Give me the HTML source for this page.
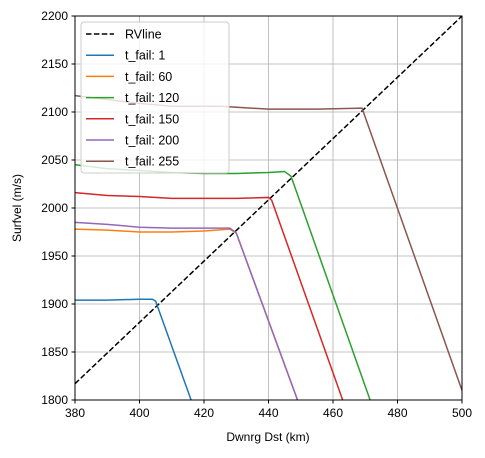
<!DOCTYPE html>
<html><head><meta charset="utf-8"><style>
body{margin:0;background:#fff;font-family:"Liberation Sans",sans-serif;}
</style></head><body>
<svg width="485" height="453" xmlns="http://www.w3.org/2000/svg" font-family="Liberation Sans, sans-serif">
<rect width="485" height="453" fill="#fff"/>
<g id="grid"></g>
<g id="series"></g>
<rect x="75" y="16" width="387" height="384" fill="none" stroke="#000" stroke-width="1"/>
<g id="ticks" font-size="12"></g>
<text x="268" y="441" text-anchor="middle" font-size="12">Dwnrg Dst (km)</text>
<text transform="translate(21,208) rotate(-90)" text-anchor="middle" font-size="12">Surfvel (m/s)</text>
<g id="legend"></g>
</svg>
<script>
const xTicks=[380,400,420,440,460,480,500];
const yTicks=[1800,1850,1900,1950,2000,2050,2100,2150,2200];
const rvX=[380,500];
const rvY=[1817,2200];
const labels=["t_fail: 1","t_fail: 60","t_fail: 120","t_fail: 150","t_fail: 200","t_fail: 255"];
const colors=["#1f77b4","#ff7f0e","#2ca02c","#d62728","#9467bd","#8c564b"];
const s1x=[380,390,400,404,405,416];
const s1y=[1904,1904,1905,1905,1903,1800];
const s60x=[380,390,400,410,420,428,430,449];
const s60y=[1978,1977,1975,1975,1976,1978,1974,1800];
const s120x=[380,390,400,410,420,430,440,445,447,471.5];
const s120y=[2045,2041,2039,2037,2036,2036,2037,2038,2033,1800];
const s150x=[380,390,400,410,420,430,440,441,463];
const s150y=[2016,2013,2012,2010,2010,2010,2011,2008,1800];
const s200x=[380,390,400,410,420,428,430,449];
const s200y=[1985,1983,1980,1979,1979,1979,1974,1800];
const s255x=[380,390,400,410,425,440,455,469,500];
const s255y=[2117,2113,2109,2106,2106,2103,2103,2104,1810];
const seriesX=[s1x,s60x,s120x,s150x,s200x,s255x];
const seriesY=[s1y,s60y,s120y,s150y,s200y,s255y];
const NS="http://www.w3.org/2000/svg";
const X=v=>75+(v-380)/120*387;
const Y=v=>400-(v-1800)/400*384;
function mk(t,a,p){const e=document.createElementNS(NS,t);for(const k in a)e.setAttribute(k,a[k]);p.appendChild(e);return e;}
const grid=document.getElementById('grid'),ticks=document.getElementById('ticks'),ser=document.getElementById('series'),leg=document.getElementById('legend');
xTicks.forEach(v=>{const l=mk('line',{x1:X(v),x2:X(v),y1:16,y2:400,stroke:'#b0b0b0','stroke-width':0.8},grid);

const t=mk('line',{x1:X(v),x2:X(v),y1:400,y2:403.5,stroke:'#000'},ticks);

const tx=mk('text',{x:X(v),y:417,'text-anchor':'middle'},ticks);tx.textContent=v;
});
yTicks.forEach(v=>{const l=mk('line',{x1:75,x2:462,y1:Y(v),y2:Y(v),stroke:'#b0b0b0','stroke-width':0.8},grid);

const t=mk('line',{x1:71.5,x2:75,y1:Y(v),y2:Y(v),stroke:'#000'},ticks);

const tx=mk('text',{x:68,y:Y(v)+4,'text-anchor':'end'},ticks);tx.textContent=v;
});
const cp=mk('clipPath',{id:'cp'},ser);mk('rect',{x:75,y:16,width:387,height:384},cp);
const rv=mk('polyline',{points:rvX.map((v,i)=>X(v)+','+Y(rvY[i])).join(' '),fill:'none',stroke:'#000','stroke-width':1.5,'stroke-dasharray':'5.5,2.4','clip-path':'url(#cp)'},ser);

seriesX.forEach((xs,k)=>{const p=mk('polyline',{points:xs.map((v,i)=>X(v)+','+Y(seriesY[k][i])).join(' '),fill:'none',stroke:colors[k],'stroke-width':1.5,'clip-path':'url(#cp)'},ser);
});
const box=mk('rect',{x:81,y:22,width:148,height:151,rx:3,fill:'#fff','fill-opacity':0.8,stroke:'#ccc'},leg);

const entries=[["RVline","#000",true]].concat(labels.map((l,i)=>[l,colors[i],false]));
entries.forEach((e,i)=>{const y=34+i*21.2;
const g=mk('g',{},leg);
const a={x1:86,x2:114,y1:y,y2:y,stroke:e[1],'stroke-width':1.5};if(e[2])a['stroke-dasharray']='5.5,2.4';mk('line',a,g);
const t=mk('text',{x:125,y:y+4.5,'font-size':12.5},g);t.textContent=e[0];});
</script>
</body></html>
